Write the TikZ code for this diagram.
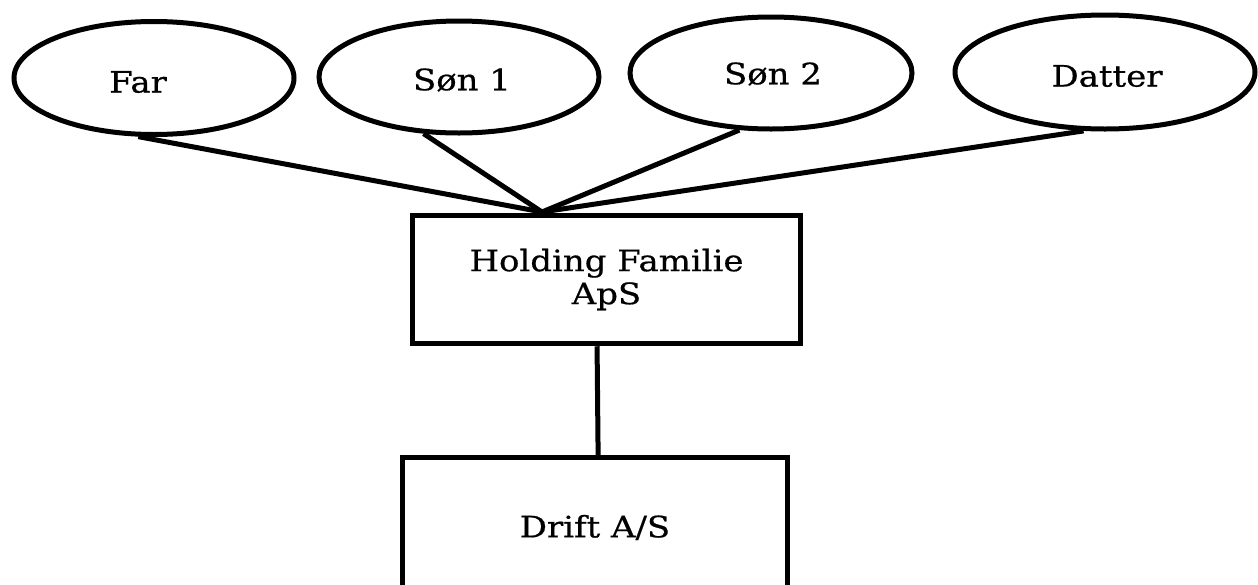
\documentclass[tikz,border=0pt]{standalone}
\usepackage{fontspec}
\setmainfont{DejaVu Serif}[FakeStretch=1.15,FakeBold=0.6]
\usetikzlibrary{shapes.geometric,calc}
\begin{document}
\begin{tikzpicture}[x=1pt,y=-1pt,
  oval/.style={draw, ellipse, line width=5pt, inner sep=0pt},
  box/.style={draw, rectangle, line width=5pt, inner sep=0pt, align=center, font=\fontsize{29.5}{33}\selectfont},
  lbl/.style={inner sep=0pt, font=\fontsize{29.5}{33}\selectfont},
  link/.style={draw, line width=5pt}]
\clip (0,0) rectangle (1258,584);
\useasboundingbox (0,0) rectangle (1258,584);
\fill[white] (0,0) rectangle (1258,584);
% top ellipses
\node[oval, minimum width=280pt, minimum height=113pt] (far) at (154,78) {};
\node[lbl] (farT) at (138,82) {Far};
\node[oval, minimum width=280pt, minimum height=112pt] (son1) at (459,77) {};
\node[lbl] (son1T) at (462,80) {Søn 1};
\node[oval, minimum width=282pt, minimum height=112pt] (son2) at (771,73) {};
\node[lbl] (son2T) at (773,74) {Søn 2};
\node[oval, minimum width=300pt, minimum height=114pt] (datter) at (1105,72) {};
\node[lbl] (datterT) at (1107,76) {Datter};
% boxes
\node[box, minimum width=388pt, minimum height=128.5pt] (hold) at (606.5,279.5) {Holding Familie\\ApS};
\node[box, minimum width=385pt, minimum height=140pt] (drift) at (595,527.5) {Drift A/S};
% connectors
\coordinate (hub) at (542,212);
\draw[link] (far.255) -- (hub);
\draw[link] (son1.238) -- (hub);
\draw[link] (son2.241) -- (hub);
\draw[link] (datter.250) -- (hub);
\draw[link] ($(hold.south west)!0.476!(hold.south east)$) -- ($(drift.north west)!0.508!(drift.north east)$);
\end{tikzpicture}
\end{document}
